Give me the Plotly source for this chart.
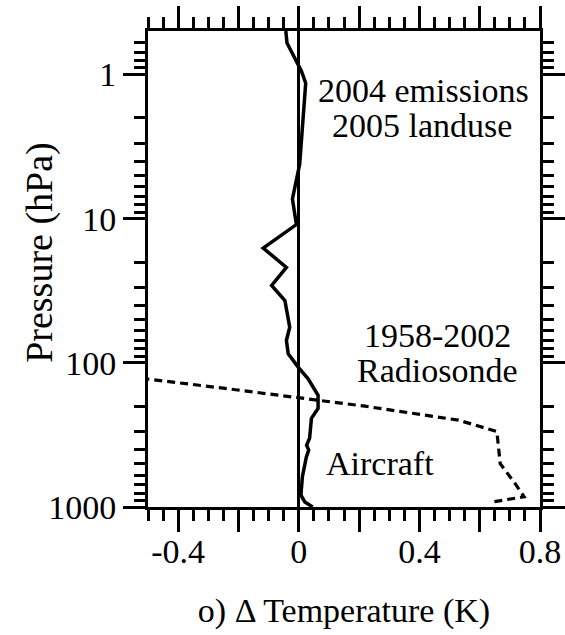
import math
import plotly.graph_objects as go

# Model temperature-change profile (2004 emissions, 2005 land use)
model_dT = [-0.043, -0.039, 0.009, 0.023, 0.003, -0.021, -0.008, -0.118, -0.041,
            -0.090, -0.046, -0.035, -0.030, -0.041, -0.035, -0.002, 0.031, 0.064,
            0.064, 0.042, 0.036, 0.026, 0.033, 0.025, 0.012, 0.007, 0.020, 0.046]
model_p = [0.5, 0.605, 0.95, 1.15, 4.2, 7.3, 11.0, 16.0, 21.8,
           29.1, 37.0, 48.3, 56.6, 70.0, 86.5, 107, 129, 168,
           207, 243, 333, 373, 403, 451, 617, 826, 923, 1000]

# Radiosonde trend profile, 1958-2002
sonde_dT = [-0.95, -0.25, 0.22, 0.53, 0.657, 0.663, 0.668, 0.72, 0.747, 0.638]
sonde_p = [100, 150, 200, 250, 300, 400, 500, 700, 850, 925]

# Axis ticks
x_major = [-0.4, -0.2, 0, 0.2, 0.4, 0.6, 0.8]
x_labels = ["-0.4", "", "0", "", "0.4", "", "0.8"]
y_major = [1, 10, 100, 1000]
y_labels = ["1", "10", "100", "1000"]
y_minor = [0.6, 0.7, 0.8, 0.9] + [m * d for d in (1, 10, 100) for m in range(2, 10)]

FONT = "Liberation Serif"
FS = 34

fig = go.Figure()
fig.add_trace(go.Scatter(x=sonde_dT, y=sonde_p, mode="lines",
                         line=dict(color="black", width=3.2, dash="8px,5px"),
                         showlegend=False))
fig.add_trace(go.Scatter(x=model_dT, y=model_p, mode="lines",
                         line=dict(color="black", width=3.5),
                         showlegend=False))

# In-plot labels (y given as log10 pressure)
annots = [
    ("2004 emissions", 0.413, 0.115),
    ("2005 landuse", 0.410, 0.355),
    ("1958-2002", 0.46, 1.81),
    ("Radiosonde", 0.46, 2.055),
    ("Aircraft", 0.268, 2.70),
]
for txt, xv, ylog in annots:
    fig.add_annotation(x=xv, y=ylog, xref="x", yref="y", text=txt,
                       showarrow=False, xanchor="center", yanchor="middle",
                       font=dict(family=FONT, size=FS, color="black"))

# Vertical axis title
fig.add_annotation(x=-0.2755, y=0.534, xref="paper", yref="paper",
                   text="Pressure (hPa)", textangle=-90, showarrow=False,
                   xanchor="center", yanchor="middle",
                   font=dict(family=FONT, size=38, color="black"))

axis_common = dict(
    showline=True, linewidth=3, linecolor="black", mirror="allticks",
    ticks="outside", ticklen=22, tickwidth=3, tickcolor="black",
    showgrid=False, automargin=False,
    tickfont=dict(family=FONT, size=FS, color="black"),
)

fig.update_xaxes(
    range=[-0.5, 0.8], tickmode="array", tickvals=x_major, ticktext=x_labels,
    ticklabelstandoff=-10,
    zeroline=True, zerolinewidth=2.5, zerolinecolor="black",
    minor=dict(tick0=-0.5, dtick=0.05, ticks="outside", ticklen=11,
               tickwidth=3, tickcolor="black", showgrid=False),
    title=dict(text="o) \u0394 Temperature (K)",
               font=dict(family=FONT, size=FS, color="black"), standoff=30),
    **axis_common,
)
fig.update_yaxes(
    type="log", range=[3, math.log10(0.5)], tickmode="array",
    tickvals=y_major, ticktext=y_labels,
    minor=dict(tickmode="array", tickvals=y_minor, ticks="outside", ticklen=11,
               tickwidth=3, tickcolor="black", showgrid=False),
    **axis_common,
)

fig.update_layout(
    width=565, height=635,
    margin=dict(l=148, r=25, t=31, b=128),
    plot_bgcolor="white", paper_bgcolor="white",
    font=dict(family=FONT, size=FS, color="black"),
)

fig.write_html("out.html")
